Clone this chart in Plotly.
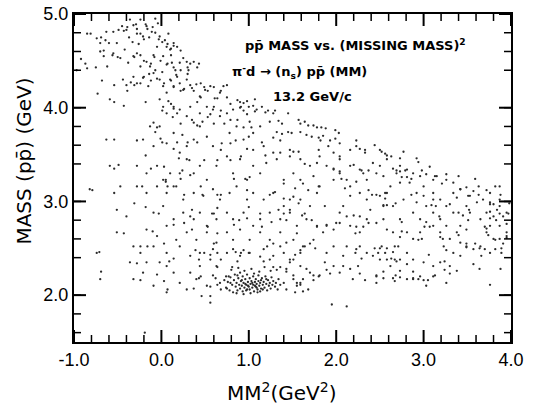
import plotly.graph_objects as go

# Events: (missing mass squared [GeV^2], p-pbar invariant mass [GeV]), grouped by region of the plane.

# Upper-left band, high mass near MM^2 ~ 0
upper_band = [
    (-0.85, 4.79), (-0.74, 4.74), (-0.70, 4.69), (-0.63, 4.81), (-0.55, 4.81), (-0.51, 4.69),
    (-0.45, 4.87), (-0.40, 4.83), (-0.36, 4.94), (-0.32, 4.88), (-0.28, 4.79), (-0.24, 4.94),
    (-0.21, 4.76), (-0.17, 4.87), (-0.11, 4.81), (-0.07, 4.95), (-0.04, 4.90), (-0.02, 4.76),
    (0.04, 4.72), (0.06, 4.65), (0.10, 4.62), (0.08, 4.79), (0.14, 4.69),
    (-0.70, 4.60), (-0.66, 4.55), (-0.55, 4.58), (-0.47, 4.53), (-0.42, 4.62), (-0.38, 4.48),
    (-0.32, 4.55), (-0.28, 4.58), (-0.24, 4.44), (-0.17, 4.49), (-0.13, 4.44), (-0.09, 4.56),
    (-0.05, 4.65), (0.02, 4.55), (0.06, 4.46), (0.12, 4.48), (0.16, 4.40), (0.21, 4.48),
    (0.25, 4.53), (0.29, 4.49), (0.31, 4.40),
    (-0.49, 4.83), (-0.43, 4.82), (-0.39, 4.86), (-0.29, 4.89), (-0.28, 4.84), (-0.24, 4.79),
    (-0.18, 4.89), (-0.16, 4.84), (-0.10, 4.86), (-0.07, 4.80), (-0.37, 4.75), (-0.33, 4.70),
    (-0.26, 4.68), (-0.20, 4.73), (-0.14, 4.75), (-0.03, 4.73), (0.01, 4.70), (0.07, 4.68),
    (0.11, 4.63), (0.14, 4.66), (0.18, 4.65), (0.22, 4.61),
    (-0.31, 4.54), (-0.24, 4.56), (-0.20, 4.50), (-0.12, 4.47), (-0.08, 4.54), (-0.01, 4.50),
    (0.07, 4.47), (0.11, 4.56), (0.14, 4.43), (0.22, 4.40), (0.30, 4.43), (0.33, 4.47),
    (0.37, 4.49), (0.41, 4.43), (0.43, 4.47), (0.30, 4.36), (0.18, 4.33), (0.11, 4.29),
    (0.03, 4.26), (-0.05, 4.31), (-0.12, 4.29), (-0.20, 4.33), (-0.28, 4.26), (-0.35, 4.27),
    (-0.14, 4.36), (-0.07, 4.40), (0.01, 4.38),
    (-0.44, 4.30), (-0.40, 4.24), (-0.32, 4.33), (-0.24, 4.26), (-0.21, 4.32), (-0.15, 4.23),
    (-0.09, 4.37), (-0.02, 4.30), (0.02, 4.23), (0.06, 4.16), (0.10, 4.30), (0.14, 4.23),
    (0.17, 4.35), (0.21, 4.26), (0.25, 4.19), (0.29, 4.30), (0.35, 4.21), (0.40, 4.25),
    (0.44, 4.12), (0.50, 4.19), (0.56, 4.23), (0.61, 4.10), (0.67, 4.16), (0.71, 4.23),
    (0.14, 4.22), (0.22, 4.18), (0.26, 4.20), (0.33, 4.24), (0.37, 4.18), (0.45, 4.26),
    (0.49, 4.22), (0.53, 4.18), (0.60, 4.22), (0.68, 4.18), (0.75, 4.24), (0.45, 4.11),
    (0.41, 4.06), (0.11, 4.04), (0.14, 3.99), (0.18, 3.94), (0.13, 3.90), (0.22, 3.83),
    (0.35, 3.87), (0.41, 3.81), (0.47, 3.85), (0.53, 3.90), (0.60, 3.83), (0.72, 3.83),
    (0.79, 3.87), (0.87, 3.87), (-0.05, 3.79), (-0.07, 3.74), (0.01, 3.97), (0.60, 4.01),
    (0.68, 3.97), (0.79, 4.04), (0.87, 4.08), (0.91, 4.01), (0.75, 4.11), (0.64, 4.10),
    (-0.02, 4.09), (0.02, 4.01), (0.06, 3.94), (0.08, 4.07), (0.14, 4.01), (0.21, 3.98),
    (0.29, 3.91), (0.33, 4.01), (0.37, 3.84), (0.44, 3.94), (0.52, 4.01), (0.56, 3.93),
    (0.59, 3.98), (0.67, 3.91), (0.75, 3.94), (0.82, 3.98), (0.90, 4.00), (0.98, 3.93),
    (1.07, 3.96), (1.15, 4.01), (1.09, 3.98), (-0.13, 3.80), (-0.09, 3.84),
]

# Sparse events at negative MM^2
left_sparse = [
    (-0.81, 4.79), (-0.69, 4.75), (-0.64, 4.72), (-0.60, 4.69), (-0.66, 4.61), (-0.56, 4.56),
    (-0.50, 4.54), (-0.62, 4.44), (-0.75, 4.43), (-0.85, 4.42), (-0.92, 4.52), (-0.87, 4.47),
    (-0.68, 4.29), (-0.54, 4.24), (-0.73, 4.15), (-0.54, 4.06), (-0.43, 4.02), (-0.18, 4.06),
    (-0.39, 4.18), (-0.31, 4.24), (-0.54, 3.66), (-0.28, 3.65), (-0.18, 3.49), (-0.54, 3.35),
    (-0.49, 3.39), (-0.79, 3.12), (-0.54, 3.09), (-0.22, 3.16), (-0.12, 3.35), (-0.01, 3.67),
    (-0.03, 2.87), (-0.18, 2.94), (-0.31, 2.98), (-0.43, 2.66), (-0.10, 2.68), (-0.16, 2.52),
    (-0.71, 2.46), (-0.28, 2.34), (-0.69, 2.25), (-0.24, 2.16), (-0.05, 2.22), (-0.97, 4.40),
    (-0.59, 4.09), (-0.63, 3.66), (-0.59, 3.38), (-0.82, 3.13), (-0.74, 2.45), (-0.70, 2.17),
    (-0.51, 2.67), (-0.36, 2.35), (-0.51, 2.91), (-0.24, 2.52), (-0.17, 2.35), (-0.47, 3.16),
    (-0.40, 2.84), (-0.19, 1.60), (-0.21, 3.66), (-0.28, 3.38), (-0.17, 3.30), (-0.28, 3.16),
    (-0.17, 3.09), (-0.17, 2.70), (-0.32, 2.52), (-0.24, 2.45), (-0.32, 2.17), (-0.21, 2.24),
    (-0.09, 2.10),
]

# Central region, MM^2 from 0 to 2
central = [
    (-0.09, 3.59), (-0.02, 3.80), (0.06, 3.62), (0.14, 3.73), (0.21, 3.52), (0.29, 3.59),
    (0.37, 3.66), (0.44, 3.80), (0.52, 3.69), (0.59, 3.59), (0.69, 3.62), (0.78, 3.73),
    (0.86, 3.80), (0.94, 3.66), (1.05, 3.73), (1.13, 3.80), (1.17, 3.59), (1.28, 3.52),
    (1.36, 3.52), (1.47, 3.48), (1.59, 3.45), (1.70, 3.38), (1.78, 3.41),
    (-0.05, 3.38), (0.02, 3.23), (0.10, 3.30), (0.21, 3.30), (0.29, 3.45), (0.37, 3.30),
    (0.44, 3.38), (0.52, 3.23), (0.63, 3.38), (0.75, 3.48), (0.82, 3.30), (0.90, 3.45),
    (0.98, 3.23), (1.05, 3.38), (1.13, 3.30), (1.20, 3.41), (1.32, 3.45), (1.40, 3.23),
    (1.51, 3.30), (1.59, 3.23), (1.74, 3.27), (1.81, 3.16),
    (-0.05, 3.16), (0.06, 3.09), (0.17, 3.16), (0.25, 3.02), (0.37, 3.09), (0.48, 3.06),
    (0.59, 3.13), (0.67, 3.02), (0.78, 3.09), (0.86, 3.16), (0.98, 3.02), (1.05, 3.09),
    (1.17, 3.02), (1.28, 3.09), (1.40, 2.95), (1.47, 3.02), (1.59, 3.02), (1.70, 2.95),
    (1.78, 3.09), (1.87, 2.95),
    (-0.09, 2.88), (0.02, 2.95), (0.14, 2.81), (0.25, 2.88), (0.37, 2.81), (0.44, 2.88),
    (0.52, 2.74), (0.63, 2.81), (0.75, 2.88), (0.82, 2.81), (0.94, 2.88), (1.05, 2.74),
    (1.13, 2.81), (1.24, 2.88), (1.36, 2.81), (1.47, 2.88), (1.55, 2.74), (1.66, 2.81),
    (1.78, 2.74), (1.85, 2.67),
    (-0.05, 2.63), (0.06, 2.74), (0.17, 2.59), (0.29, 2.67), (0.40, 2.59), (0.52, 2.67),
    (0.63, 2.56), (0.75, 2.67), (0.82, 2.59), (0.90, 2.70), (1.01, 2.59), (1.13, 2.67),
    (1.24, 2.59), (1.36, 2.67), (1.43, 2.56), (1.51, 2.59), (1.62, 2.52), (1.74, 2.59),
    (-0.09, 2.52), (0.06, 2.45), (0.21, 2.52), (0.33, 2.42), (0.44, 2.45), (0.59, 2.49),
    (0.75, 2.45), (0.82, 2.49), (0.90, 2.42), (1.01, 2.45), (1.17, 2.49), (1.28, 2.42),
    (1.40, 2.45), (1.51, 2.38), (1.59, 2.45),
    (0.90, 4.06), (0.94, 4.05), (0.98, 4.07), (1.00, 4.01), (1.05, 4.02), (0.94, 3.97),
    (1.07, 4.09), (1.19, 3.95), (1.22, 3.97), (1.28, 3.94), (1.30, 3.97), (1.45, 3.94),
    (1.01, 3.85), (0.94, 3.79), (1.03, 3.79), (1.24, 3.85), (1.34, 3.86), (1.38, 3.83),
    (1.57, 3.87), (1.59, 3.83), (1.64, 3.85), (1.68, 3.81), (1.74, 3.81), (1.78, 3.79),
    (1.83, 3.79), (1.88, 3.78), (1.99, 3.76), (2.03, 3.73), (1.32, 3.74), (1.38, 3.72),
    (1.45, 3.74), (1.49, 3.73), (1.59, 3.74), (1.66, 3.71), (1.72, 3.69), (1.80, 3.68),
    (1.82, 3.65), (1.93, 3.65), (1.28, 3.68), (1.36, 3.65), (1.99, 3.67), (2.04, 3.62),
    (1.00, 3.69), (1.15, 3.63), (0.98, 3.56), (1.05, 3.55), (1.47, 3.55), (1.51, 3.53),
    (1.57, 3.53), (1.80, 3.55), (1.19, 3.49), (1.64, 3.40), (1.97, 3.35), (2.04, 3.32),
    (0.96, 3.24), (1.01, 3.26), (1.40, 3.19), (1.53, 3.14), (1.62, 3.19), (1.68, 3.12),
    (1.80, 3.16), (0.98, 3.12), (1.24, 3.07), (1.30, 3.10), (1.40, 3.03), (1.51, 3.05),
    (1.57, 2.98), (1.47, 2.91), (1.61, 2.85), (1.64, 2.87), (1.00, 2.94), (1.13, 2.87),
    (1.34, 2.91), (1.40, 2.87), (1.43, 2.80), (1.26, 2.78), (0.98, 2.82), (1.15, 2.73),
    (1.55, 2.66), (1.72, 2.80), (1.78, 2.73), (1.89, 2.75), (1.64, 2.52), (1.70, 2.55),
    (1.76, 2.50), (1.59, 2.48), (1.53, 2.43),
    (0.53, 2.73), (0.60, 2.87), (0.64, 3.07), (0.68, 3.07), (0.89, 2.80), (0.83, 2.75),
    (0.64, 2.66), (0.33, 2.84), (0.35, 2.91), (0.26, 3.07), (0.47, 3.07), (0.58, 2.87),
    (0.64, 2.93), (0.33, 3.28), (0.45, 3.16), (0.32, 3.44), (0.49, 3.44), (0.64, 3.44),
    (0.79, 3.44), (0.83, 3.24), (0.91, 3.48), (0.68, 3.55), (0.85, 3.65), (0.79, 3.62),
    (0.22, 3.24), (0.24, 3.33), (0.07, 3.16), (0.05, 3.23), (0.20, 3.46), (0.14, 3.56),
    (0.18, 3.63), (0.30, 3.63), (0.41, 3.63), (0.24, 3.71), (0.01, 3.63), (0.03, 3.37),
    (0.05, 3.21), (0.14, 3.16), (0.14, 2.75), (0.26, 2.77), (0.35, 2.70), (0.03, 2.55),
]

# Right-hand region, MM^2 from 2 to 4
right_side = [
    (1.85, 3.70), (1.91, 3.59), (1.97, 3.52), (2.04, 3.48), (2.16, 3.55), (2.23, 3.59),
    (2.33, 3.52), (2.42, 3.41), (2.50, 3.38), (2.58, 3.45), (2.63, 3.48), (2.73, 3.38),
    (2.81, 3.34), (2.88, 3.30), (2.96, 3.27), (3.03, 3.29), (3.11, 3.23), (3.15, 3.27),
    (3.26, 3.23), (3.34, 3.20), (3.42, 3.13), (3.49, 3.15), (3.57, 3.11), (3.63, 3.07),
    (3.68, 3.02), (3.76, 2.99), (3.84, 2.91), (3.91, 2.84), (3.95, 2.88), (3.72, 2.88),
    (3.65, 2.81), (3.80, 2.84), (3.87, 2.74), (3.95, 2.61), (3.87, 2.60), (3.80, 2.60),
    (3.72, 2.67), (3.65, 2.52), (3.57, 2.49), (3.49, 2.51), (3.42, 2.56), (3.38, 2.67),
    (3.42, 2.74), (3.49, 2.70), (3.53, 2.88), (3.34, 2.88), (3.26, 2.95), (3.19, 3.02),
    (3.11, 3.02), (3.03, 2.95), (2.92, 2.99), (2.88, 2.88), (2.96, 2.81), (3.11, 2.74),
    (3.19, 2.67), (3.23, 2.52), (3.30, 2.31), (3.19, 2.35), (3.03, 2.10), (2.96, 2.20),
    (2.88, 2.17), (2.81, 2.17), (2.73, 2.19), (2.68, 2.21), (2.62, 2.31), (2.58, 2.38),
    (2.50, 2.38), (2.42, 2.42), (2.35, 2.45), (2.27, 2.52), (2.23, 2.49), (2.08, 2.42),
    (2.08, 2.31), (2.16, 2.28), (2.19, 2.17), (2.46, 2.21), (2.46, 2.13), (2.65, 2.67),
    (2.58, 2.70), (2.54, 2.81), (2.54, 2.95), (2.50, 3.06), (2.62, 3.16), (2.73, 3.20),
    (2.69, 3.30), (2.54, 3.27), (2.46, 3.30), (2.35, 3.23), (2.31, 3.30), (2.27, 3.09),
    (2.35, 3.02), (2.39, 2.91), (2.35, 2.81), (2.27, 2.67), (2.16, 2.74), (2.12, 2.84),
    (2.04, 2.88), (2.00, 2.77), (1.97, 2.70), (1.89, 2.74), (2.08, 2.95), (2.16, 3.06),
    (1.97, 3.23), (1.97, 3.34), (1.89, 3.38), (1.81, 3.48), (2.04, 3.45), (2.04, 3.30),
    (2.16, 3.38), (2.16, 3.16), (2.27, 3.34), (1.97, 2.52), (1.89, 2.45), (1.87, 2.35),
    (1.97, 2.31), (2.04, 2.24), (1.81, 2.21), (1.74, 2.21), (1.70, 2.24), (1.62, 2.17),
    (1.55, 2.10), (1.59, 2.13), (1.53, 2.03), (1.51, 2.21),
    (2.73, 2.38), (2.81, 2.45), (2.88, 2.38), (3.00, 2.35), (3.11, 2.31), (2.81, 2.67),
    (2.88, 2.60), (2.96, 2.67), (2.73, 2.81), (2.65, 2.95), (2.77, 3.02), (2.92, 3.09),
    (3.00, 3.16), (2.84, 3.20), (3.11, 2.88), (3.19, 2.81), (3.26, 2.74), (3.30, 2.60),
    (3.34, 2.45), (3.42, 2.42), (3.53, 3.06), (3.61, 2.99), (3.49, 2.95), (3.76, 2.74),
    (3.87, 3.02), (3.95, 2.67), (3.89, 2.45), (3.76, 2.45), (3.66, 2.42), (3.34, 3.09),
    (2.52, 3.53), (2.58, 3.49), (2.77, 3.53), (2.73, 3.46), (2.92, 3.46), (2.94, 3.42),
    (2.65, 3.35), (2.69, 3.33), (2.73, 3.32), (2.79, 3.33), (2.75, 3.26), (2.81, 3.26),
    (2.86, 3.24), (2.98, 3.33), (3.07, 3.37), (3.13, 3.27), (3.21, 3.19), (3.26, 3.29),
    (3.40, 3.27), (3.59, 3.24), (3.63, 3.16), (3.72, 3.12), (3.82, 3.16), (3.87, 3.16),
    (3.76, 3.09), (3.88, 3.07), (3.98, 2.98), (2.56, 3.03), (2.58, 3.09), (2.54, 2.96),
    (2.68, 2.98), (2.86, 3.07), (3.00, 3.06), (3.11, 3.09), (3.09, 2.96), (3.14, 2.95),
    (3.18, 2.84), (3.30, 2.97), (3.38, 3.04), (3.42, 3.13), (3.51, 3.06), (3.40, 2.88),
    (3.45, 2.85), (3.52, 2.91), (3.51, 2.80), (3.76, 2.97), (3.80, 2.97), (3.87, 2.95),
    (3.76, 2.89), (3.87, 2.87), (3.97, 2.87), (3.76, 2.82), (3.83, 2.80), (3.95, 2.76),
    (3.70, 2.73), (3.72, 2.71), (3.74, 2.64), (3.95, 2.63), (3.82, 2.59), (3.91, 2.55),
    (3.89, 2.50), (3.82, 2.49), (3.64, 2.50), (3.70, 2.49), (3.59, 2.55), (3.49, 2.55),
    (3.49, 2.52), (3.40, 2.64), (3.26, 2.48), (3.22, 2.60), (3.19, 2.62), (3.07, 2.73),
    (3.03, 2.78), (3.01, 2.73), (2.98, 2.60), (2.94, 2.59), (2.75, 2.78), (2.75, 2.68),
    (2.73, 2.62), (2.71, 2.52), (2.67, 2.52), (2.65, 2.46), (2.58, 2.50), (2.56, 2.45),
    (2.52, 2.52), (2.63, 2.39), (2.67, 2.38), (2.69, 2.36), (2.81, 2.33), (2.73, 2.26),
    (2.54, 2.25), (2.65, 2.18), (2.67, 2.15), (2.88, 2.25), (2.88, 2.18), (2.94, 2.17),
    (3.00, 2.16), (3.05, 2.16), (3.11, 2.20), (3.13, 2.21), (3.06, 2.43), (3.24, 2.36),
    (3.24, 2.27), (3.30, 2.23), (3.38, 2.26), (3.26, 2.13), (3.57, 2.33), (3.64, 2.28),
    (3.88, 2.28), (3.76, 2.11),
    (2.23, 3.65), (2.27, 3.56), (2.33, 3.55), (2.44, 3.60), (2.50, 3.55), (2.56, 3.51),
    (2.06, 3.24), (2.12, 3.23), (2.20, 3.39), (2.29, 3.33), (2.37, 3.33), (2.37, 3.12),
    (2.41, 3.07), (2.46, 3.07), (2.56, 3.09), (2.58, 2.96), (2.10, 3.14), (2.23, 3.21),
    (2.04, 2.77), (2.20, 2.85), (2.23, 2.73), (2.27, 2.84), (2.31, 2.73), (2.37, 2.77),
    (2.46, 2.77), (2.22, 2.66), (2.12, 2.52), (2.22, 2.45), (2.29, 2.39), (2.44, 2.50),
    (2.50, 2.50), (2.48, 2.45), (2.25, 2.31), (2.27, 2.23), (2.33, 2.16), (2.46, 2.20),
    (2.54, 2.18), (1.89, 2.27), (1.93, 2.23), (1.80, 2.20), (1.74, 2.16), (1.68, 2.06),
    (1.62, 2.04), (1.59, 2.11), (1.55, 2.13), (2.12, 1.88), (1.95, 1.90),
]

# Low-mass region around threshold, outside the main peak
low_mass = [
    (-0.02, 2.35), (0.06, 2.31), (0.06, 2.03), (0.14, 2.24), (0.21, 2.13), (0.29, 2.06),
    (0.33, 2.24), (0.40, 2.17), (0.44, 2.31), (0.52, 2.10), (0.59, 2.21), (0.67, 2.13),
    (0.46, 1.99), (0.56, 2.38), (0.63, 2.31), (1.40, 2.13), (1.43, 2.06), (1.51, 2.17),
    (1.59, 2.31), (1.66, 2.28), (1.47, 2.35), (1.43, 2.28), (0.56, 1.92),
    (0.14, 2.39), (0.09, 2.36), (0.03, 2.15), (0.07, 2.06), (0.37, 2.07), (0.43, 2.18),
    (0.45, 2.20), (0.56, 2.09), (0.56, 1.99), (0.62, 2.18), (0.64, 2.11), (0.68, 2.06),
    (0.72, 2.16), (0.74, 2.20), (0.77, 2.20), (0.79, 2.13), (0.75, 2.07), (0.81, 2.30),
    (0.64, 2.30), (0.68, 2.38), (0.64, 2.45), (0.56, 2.43), (0.49, 2.45), (0.43, 2.38),
    (0.39, 2.48), (0.60, 2.55), (0.85, 2.46), (0.91, 2.45), (0.87, 2.36),
    (0.94, 2.48), (1.00, 2.45), (1.13, 2.41), (1.17, 2.36), (1.24, 2.38), (1.28, 2.30),
    (1.32, 2.27), (1.36, 2.30), (1.43, 2.25), (1.21, 2.52), (1.36, 2.52), (1.28, 2.55),
    (1.47, 2.38),
]

# Dense low-mass cluster near MM^2 ~ 1
peak = [
    (0.74, 2.08), (0.76, 2.14), (0.78, 2.05), (0.79, 2.19), (0.81, 2.11), (0.82, 2.03),
    (0.83, 2.16), (0.84, 2.22), (0.85, 2.09), (0.86, 2.13), (0.87, 2.05), (0.88, 2.18),
    (0.89, 2.11), (0.90, 2.07), (0.90, 2.24), (0.91, 2.15), (0.92, 2.10), (0.93, 2.04),
    (0.93, 2.20), (0.94, 2.13), (0.95, 2.08), (0.96, 2.17), (0.97, 2.11), (0.97, 2.05),
    (0.98, 2.22), (0.99, 2.14), (1.00, 2.09), (1.01, 2.18), (1.01, 2.06), (1.02, 2.12),
    (1.03, 2.15), (1.04, 2.08), (1.05, 2.20), (1.05, 2.11), (1.06, 2.04), (1.07, 2.14),
    (1.08, 2.09), (1.08, 2.17), (1.09, 2.12), (1.10, 2.06), (1.11, 2.15), (1.11, 2.21),
    (1.12, 2.10), (1.13, 2.13), (1.14, 2.07), (1.15, 2.18), (1.16, 2.11), (1.17, 2.14),
    (1.18, 2.08), (1.19, 2.20), (1.20, 2.12), (1.21, 2.05), (1.22, 2.16), (1.23, 2.10),
    (1.24, 2.13), (1.25, 2.07), (1.26, 2.19), (1.27, 2.11), (1.28, 2.15), (1.30, 2.09),
    (1.31, 2.13), (1.33, 2.06), (1.34, 2.17), (1.36, 2.11), (0.80, 2.27), (0.88, 2.29),
    (0.95, 2.26), (1.03, 2.28), (1.12, 2.25), (1.18, 2.30), (1.25, 2.26), (0.86, 2.02),
    (0.94, 2.01), (1.02, 2.02), (1.10, 2.03), (0.99, 2.10), (1.04, 2.13), (1.07, 2.10),
    (0.92, 2.16), (1.14, 2.16), (0.98, 2.06), (1.13, 2.04), (0.87, 2.21), (1.06, 2.23),
    (0.96, 2.12), (1.09, 2.08), (1.16, 2.06), (1.20, 2.17),
]

events = upper_band + left_sparse + central + right_side + low_mass + peak
mm2 = [p[0] for p in events]
mass = [p[1] for p in events]

# Axis ranges, labelled values and tick positions
x_range = [-1.0, 4.0]
y_range = [1.5, 5.0]
x_major = [-1, 0, 1, 2, 3, 4]
x_major_text = ["-1.0", "0.0", "1.0", "2.0", "3.0", "4.0"]
y_major = [2, 3, 4, 5]
y_major_text = ["2.0", "3.0", "4.0", "5.0"]
x_minor = [round(-0.8 + 0.2 * i, 1) for i in range(24) if (i + 1) % 5 != 0]
y_minor = [round(1.6 + 0.2 * i, 1) for i in range(17) if (i + 2) % 5 != 0]

# Frame size in pixels, used to turn tick lengths into paper fractions
W, H = 547, 407
M_L, M_R, M_T, M_B = 74, 36, 14, 65
plot_w = W - M_L - M_R
plot_h = H - M_T - M_B
MAJOR_LEN, MINOR_LEN = 12, 7

fig = go.Figure()
fig.add_trace(go.Scatter(
    x=mm2, y=mass, mode="markers",
    marker=dict(size=2.3, color="#2b2b2b"),
    showlegend=False, hoverinfo="skip",
))

# Inward ticks on all four sides of the frame
tick_shapes = []
for vals, length, width in ((x_major, MAJOR_LEN, 2), (x_minor, MINOR_LEN, 1.5)):
    f = length / plot_h
    for v in vals:
        tick_shapes.append(dict(type="line", xref="x", yref="paper", x0=v, x1=v, y0=0, y1=f,
                                line=dict(color="black", width=width)))
        tick_shapes.append(dict(type="line", xref="x", yref="paper", x0=v, x1=v, y0=1, y1=1 - f,
                                line=dict(color="black", width=width)))
for vals, length, width in ((y_major, MAJOR_LEN, 2), (y_minor, MINOR_LEN, 1.5)):
    f = length / plot_w
    for v in vals:
        tick_shapes.append(dict(type="line", xref="paper", yref="y", x0=0, x1=f, y0=v, y1=v,
                                line=dict(color="black", width=width)))
        tick_shapes.append(dict(type="line", xref="paper", yref="y", x0=1, x1=1 - f, y0=v, y1=v,
                                line=dict(color="black", width=width)))

tick_font = dict(family="Liberation Sans", size=18, color="black")

fig.update_xaxes(
    range=x_range, tickmode="array", tickvals=x_major, ticktext=x_major_text,
    ticks="", showline=True, linecolor="black", linewidth=2, mirror=True,
    showgrid=False, zeroline=False, automargin=False, tickfont=tick_font,
)
fig.update_yaxes(
    range=y_range, tickmode="array", tickvals=y_major, ticktext=y_major_text,
    ticks="", showline=True, linecolor="black", linewidth=2, mirror=True,
    showgrid=False, zeroline=False, automargin=False, tickfont=tick_font,
)

title_font = dict(family="DejaVu Sans", size=20, color="black")
label_font = dict(family="DejaVu Sans", size=13, color="black")

fig.update_layout(
    width=W, height=H,
    margin=dict(l=M_L, r=M_R, t=M_T, b=M_B),
    paper_bgcolor="white", plot_bgcolor="white",
    shapes=tick_shapes,
    annotations=[
        dict(text="MASS (p\u0070\u0304) (GeV)", textangle=-90, xref="paper", yref="paper",
             x=0, y=0.55, xshift=-50, xanchor="center", yanchor="middle",
             showarrow=False, font=title_font),
        dict(text="MM<sup>2</sup>(GeV<sup>2</sup>)", xref="paper", yref="paper",
             x=0.474, y=0, yshift=-50, xanchor="center", yanchor="middle",
             showarrow=False, font=title_font),
        dict(text="<b>p\u0070\u0304 MASS vs. (MISSING MASS)<sup>2</sup></b>", xref="paper", yref="paper",
             x=0.645, y=0.905, xanchor="center", yanchor="middle", showarrow=False, font=label_font),
        dict(text="<b>\u03c0<sup>-</sup>d \u2192 (n<sub>s</sub>) p\u0070\u0304 (MM)</b>", xref="paper", yref="paper",
             x=0.517, y=0.823, xanchor="center", yanchor="middle", showarrow=False, font=label_font),
        dict(text="<b>13.2 GeV/c</b>", xref="paper", yref="paper",
             x=0.545, y=0.747, xanchor="center", yanchor="middle", showarrow=False, font=label_font),
    ],
)

fig.write_html("out.html")
